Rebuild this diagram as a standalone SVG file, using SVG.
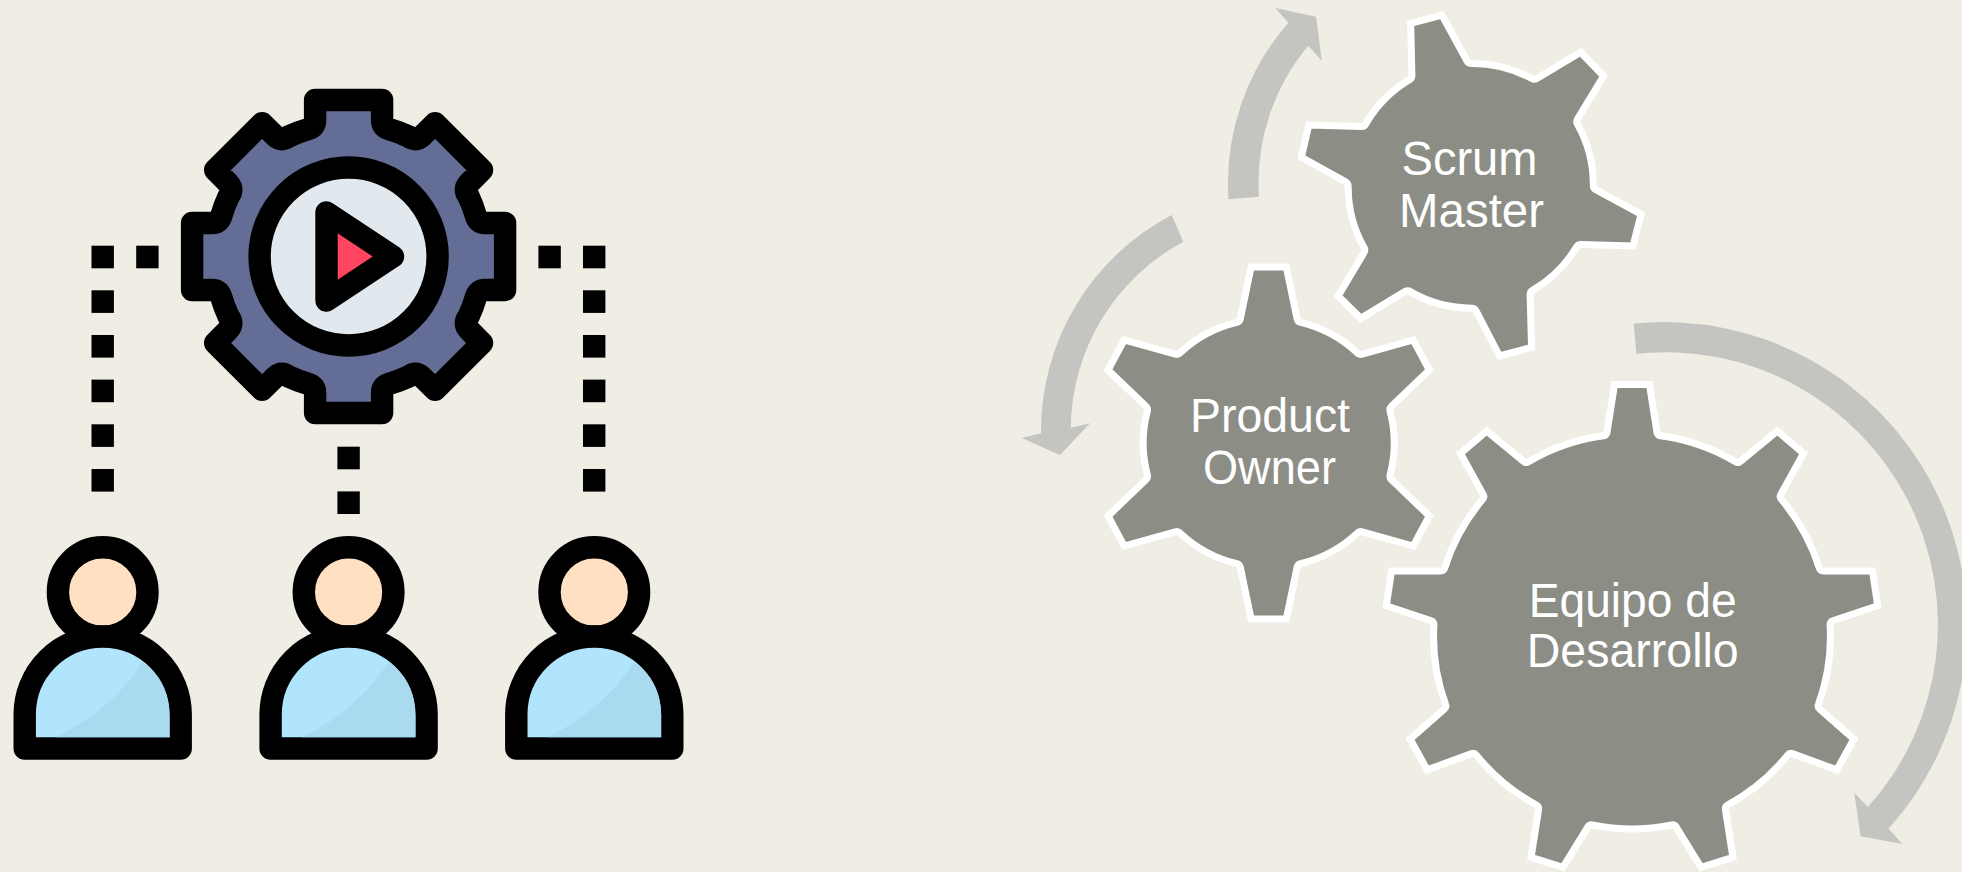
<svg xmlns="http://www.w3.org/2000/svg" xmlns:xlink="http://www.w3.org/1999/xlink" width="1962" height="872" viewBox="0 0 1962 872">
<style>
.ink{stroke:#000;stroke-width:22.4;stroke-linejoin:round}
.dash{fill:#000}
.cog{fill:#8C8D85;stroke:#fff;stroke-width:7;stroke-linejoin:miter;stroke-miterlimit:10}
.arrow{fill:#C4C5C0}
.label{fill:#fff;font-family:"Liberation Sans",Arial,sans-serif;font-size:48px;text-anchor:middle}
</style>
<defs>
<g id="person">
<circle class="ink" cx="0" cy="592" r="44.8" fill="#FFE0C2"/>
<path class="ink" d="M-78,748.5V714.5A78,78 0 0 1 78,714.5V748.5Z" fill="#B1E4FD"/>
<path d="M40.3,662Q9,710 -46.7,737.3H66.9V714.5A67,67 0 0 0 40.3,662Z" fill="#A9DAF0"/>
</g>
</defs>
<rect width="1962" height="872" fill="#EFEDE4"/>

<g id="connectors">
<g id="dashes-left">
<rect class="dash" x="91.5" y="245.7" width="22.4" height="22.6"/>
<rect class="dash" x="136.2" y="245.7" width="22.4" height="22.6"/>
<rect class="dash" x="91.5" y="290.3" width="22.4" height="22.6"/>
<rect class="dash" x="91.5" y="335" width="22.4" height="22.6"/>
<rect class="dash" x="91.5" y="379.6" width="22.4" height="22.6"/>
<rect class="dash" x="91.5" y="424.3" width="22.4" height="22.6"/>
<rect class="dash" x="91.5" y="469" width="22.4" height="22.6"/>
</g>
<g id="dashes-center">
<rect class="dash" x="337.4" y="446.7" width="22.4" height="22.6"/>
<rect class="dash" x="337.4" y="491.4" width="22.4" height="22.6"/>
</g>
<g id="dashes-right">
<rect class="dash" x="538.4" y="245.7" width="22.4" height="22.6"/>
<rect class="dash" x="583" y="245.7" width="22.4" height="22.6"/>
<rect class="dash" x="583" y="290.3" width="22.4" height="22.6"/>
<rect class="dash" x="583" y="335" width="22.4" height="22.6"/>
<rect class="dash" x="583" y="379.6" width="22.4" height="22.6"/>
<rect class="dash" x="583" y="424.3" width="22.4" height="22.6"/>
<rect class="dash" x="583" y="469" width="22.4" height="22.6"/>
</g>
<path id="arrow-scrum" class="arrow" d="M1228.5,199.3A244,244 0 0 1 1288.4,22.7L1275.4,8L1316.1,16.7L1321.8,60.7L1308.3,45.7A214,214 0 0 0 1258.9,196.7Z"/>
<path id="arrow-product" class="arrow" d="M1171.7,215A244,244 0 0 0 1041,433.3L1021.7,438L1060,455L1090,423.3L1070.7,427.7A214,214 0 0 1 1183.3,241.7Z"/>
<path id="arrow-team" class="arrow" d="M1633.7,323.6A303,303 0 0 1 1888.4,828.6L1902.3,844L1860.6,836.2L1854.3,792.8L1867.8,807.1A272.5,272.5 0 0 0 1636.4,353.7Z"/>
</g>

<g id="gear-play">
<path class="ink" fill="#646D96" transform="translate(348.6,256.5)" d="M33.5,-156.5V-136Q33.5,-129.5 40,-127.5A134,134 0 0 1 60,-120Q67,-114.5 73,-120L86.5,-133.4L133.4,-86.5L120,-73Q114.5,-67 120,-60A134,134 0 0 1 127.5,-40Q129.5,-33.5 136,-33.5H156.5V33.5H136Q129.5,33.5 127.5,40A134,134 0 0 1 120,60Q114.5,67 120,73L133.4,86.5L86.5,133.4L73,120Q67,114.5 60,120A134,134 0 0 1 40,127.5Q33.5,129.5 33.5,136V156.5H-33.5V136Q-33.5,129.5 -40,127.5A134,134 0 0 1 -60,120Q-67,114.5 -73,120L-86.5,133.4L-133.4,86.5L-120,73Q-114.5,67 -120,60A134,134 0 0 1 -127.5,40Q-129.5,33.5 -136,33.5H-156.5V-33.5H-136Q-129.5,-33.5 -127.5,-40A134,134 0 0 1 -120,-60Q-114.5,-67 -120,-73L-133.4,-86.5L-86.5,-133.4L-73,-120Q-67,-114.5 -60,-120A134,134 0 0 1 -40,-127.5Q-33.5,-129.5 -33.5,-136V-156.5Z"/>
<circle class="ink" cx="348.6" cy="256.5" r="89" fill="#E1E9EF"/>
<path class="ink" d="M326.5,212.5L393,256.5L326.5,300.5Z" fill="#FF4560"/>
</g>
<g id="person-1"><use href="#person" xlink:href="#person" x="102.7"/></g>
<g id="person-2"><use href="#person" xlink:href="#person" x="348.6"/></g>
<g id="person-3"><use href="#person" xlink:href="#person" x="594.3"/></g>

<g id="gear-scrum-master">
<path class="cog" d="M1410.7,23.3L1441.9,15L1466.9,60.7Q1468.3,63.3 1471.3,63.4A123,123 0 0 1 1531.7,78.5Q1534.3,80 1536.9,78.5L1580.6,52.3L1603.6,76L1577.5,119.1Q1575.9,121.7 1577.5,124.3A123,123 0 0 1 1593.3,185.3Q1593.2,188.3 1595.8,189.7L1641,214.3L1633,246L1581,244.4Q1578,244.3 1576.6,246.9A123,123 0 0 1 1532.6,290.3Q1530,291.7 1530.1,294.7L1531.6,347.3L1499.6,356L1476.2,311Q1474.8,308.3 1471.8,308.2A123,123 0 0 1 1410.2,291.6Q1407.6,290 1405,291.6L1360.8,318.3L1338.2,296L1364,252.6Q1365.6,250 1364,247.4A123,123 0 0 1 1348.2,186.3Q1348.2,183.3 1345.6,181.8L1301.4,157.3L1308.8,125L1361.3,126.6Q1364.3,126.7 1365.7,124.1A123,123 0 0 1 1409.4,79.8Q1412,78.3 1411.9,75.3Z"/>
<text class="label" x="1469.5" y="175" textLength="136" lengthAdjust="spacingAndGlyphs">Scrum</text>
<text class="label" x="1471.5" y="226.7" textLength="145" lengthAdjust="spacingAndGlyphs">Master</text>
</g>
<g id="gear-product-owner">
<path class="cog" transform="translate(1268.7,443)" d="M17.6,-176L28.4,-124.2Q29,-121.3 31.9,-120.6A125,125 0 0 1 88.5,-90.2Q90.6,-88 93.5,-88.8L144.6,-103L160.6,-73L122.8,-36.8Q120.6,-34.7 121.4,-31.8A125,125 0 0 1 121.4,31.8Q120.6,34.7 122.8,36.8L160.6,73L144.6,103L93.5,88.8Q90.6,88 88.5,90.2A125,125 0 0 1 31.9,120.6Q29,121.3 28.4,124.2L17.6,176H-17.6L-28.4,124.2Q-29,121.3 -31.9,120.6A125,125 0 0 1 -88.5,90.2Q-90.6,88 -93.5,88.8L-144.6,103L-160.6,73L-122.8,36.8Q-120.6,34.7 -121.4,31.8A125,125 0 0 1 -121.4,-31.8Q-120.6,-34.7 -122.8,-36.8L-160.6,-73L-144.6,-103L-93.5,-88.8Q-90.6,-88 -88.5,-90.2A125,125 0 0 1 -31.9,-120.6Q-29,-121.3 -28.4,-124.2L-17.6,-176Z"/>
<text class="label" x="1270" y="431.7" textLength="160" lengthAdjust="spacingAndGlyphs">Product</text>
<text class="label" x="1269.5" y="484" textLength="133" lengthAdjust="spacingAndGlyphs">Owner</text>
</g>
<g id="gear-equipo-desarrollo">
<path class="cog" d="M1614.5,384.6H1649.5L1657,432.4Q1657.5,435.4 1660.5,435.8A198,198 0 0 1 1735.5,461.8Q1738,463.4 1740.3,461.5L1777.3,431.1L1803.5,453.4L1780.8,494.5Q1779.3,497.1 1781.3,499.3A198,198 0 0 1 1819.3,568Q1820.2,570.9 1823.2,570.9H1872.5L1877.7,605.7L1832.8,620.8Q1830,621.8 1830.1,624.8A198,198 0 0 1 1818.5,704.3Q1817.4,707.1 1819.7,709.1L1853.9,739L1836.8,769.9L1792.4,753.6Q1789.6,752.6 1787.8,755A198,198 0 0 1 1727.6,805Q1724.9,806.4 1725.4,809.4L1732.9,857.3L1701.1,867.3L1676.1,826.9Q1674.5,824.3 1671.6,825A198,198 0 0 1 1592.4,825Q1589.5,824.3 1587.9,826.9L1562.9,867.3L1531.1,857.3L1538.6,809.4Q1539.1,806.4 1536.4,805A198,198 0 0 1 1476.2,755Q1474.4,752.6 1471.6,753.6L1427.2,769.9L1410.1,739L1444.3,709.1Q1446.6,707.1 1445.5,704.3A198,198 0 0 1 1433.9,624.8Q1434,621.8 1431.2,620.8L1386.3,605.7L1391.5,570.9H1440.8Q1443.8,570.9 1444.7,568A198,198 0 0 1 1482.7,499.3Q1484.7,497.1 1483.2,494.5L1460.5,453.4L1486.7,431.1L1523.7,461.5Q1526,463.4 1528.5,461.8A198,198 0 0 1 1603.5,435.8Q1606.5,435.4 1607,432.4Z"/>
<text class="label" x="1632.7" y="616.5" textLength="208" lengthAdjust="spacingAndGlyphs">Equipo de</text>
<text class="label" x="1632.7" y="667.3" textLength="212" lengthAdjust="spacingAndGlyphs">Desarrollo</text>
</g>
</svg>
